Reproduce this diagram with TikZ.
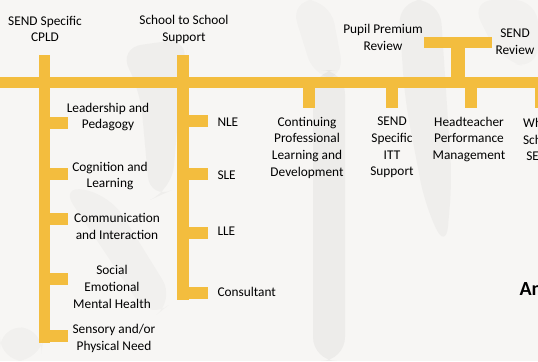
\documentclass[tikz,border=0pt]{standalone}
\usepackage{fontspec}
\setmainfont{Carlito}
\definecolor{bargold}{RGB}{243,189,62}
\definecolor{paper}{RGB}{247,246,244}
\definecolor{shade}{RGB}{150,150,150}
\tikzset{every picture/.style={line width=0.75pt}}
\tikzset{
  bar/.style={draw=bargold, line width=8.6pt},
  lbl/.style={align=center, inner sep=0.75pt, font=\fontsize{10}{12.5}\selectfont},
  ghost/.style={fill=shade, fill opacity=0.08, draw=none, rounded corners=18pt},
}

\begin{document}
\begin{tikzpicture}[x=0.75pt,y=0.75pt,yscale=-1,xscale=1]
\useasboundingbox (0,0) rectangle (538,361);
\clip (0,0) rectangle (538,361);

%Background
\fill [paper] (0,0) rectangle (538,361);
%Shape: faded photo
\path [ghost] (118,48) -- (190,38) -- (182,70) -- (172,190) -- (150,200) -- (140,90) -- cycle;
\path [ghost, fill opacity=0.06] (60,185) -- (110,195) -- (175,300) -- (150,320) -- cycle;
\path [ghost, fill opacity=0.06] (0,325) -- (45,330) -- (40,361) -- (0,361) -- cycle;
\path [ghost, fill opacity=0.1] (313,70) -- (345,70) -- (345,361) -- (313,361) -- cycle;
\path [ghost, fill opacity=0.05] (290,0) -- (330,0) -- (345,80) -- (315,80) -- cycle;
\path [ghost] (398,0) -- (440,0) -- (452,180) -- (446,250) -- (425,205) -- (405,100) -- cycle;
\path [ghost, fill opacity=0.05] (470,0) -- (538,0) -- (538,70) -- (500,60) -- cycle;

%Straight Lines: main bar
\draw [bar] (0,82.5) -- (538,82.5);
%Straight Lines: CPLD branch
\draw [bar] (44.5,55) -- (44.5,343);
\foreach \y in {123,174,219,279,336}
  \draw [bar] (44.5,\y) -- (68,\y);
%Straight Lines: school to school branch
\draw [bar] (183,55) -- (183,300);
\foreach \y in {121,174,233,293}
  \draw [bar] (183,\y) -- (208,\y);
%Straight Lines: review T
\draw [bar] (424,42.5) -- (492,42.5);
\draw [bar, line width=10pt] (458,42.5) -- (458,82.5);
%Straight Lines: drops
\foreach \x in {309,392,471,541}
  \draw [bar] (\x,82.5) -- (\x,108);

% Text Node
\draw (45,29) node [lbl] (cpld) {SEND Specific\\CPLD};
% Text Node
\draw (184,29.5) node [lbl] (s2s) {School to School\\Support};
% Text Node
\draw (383,37.5) node [lbl] (ppr) {Pupil Premium\\Review};
% Text Node
\draw (515,41.5) node [lbl] (sendrev) {SEND\\Review};

% Text Node
\draw (108,117) node [lbl] (lead) {Leadership and\\Pedagogy};
% Text Node
\draw (110,176) node [lbl] (cog) {Cognition and\\Learning};
% Text Node
\draw (117,226.5) node [lbl] (comm) {Communication\\and Interaction};
% Text Node
\draw (112,287) node [lbl] (semh) {Social\\Emotional\\Mental Health};
% Text Node
\draw (114,338.5) node [lbl] (sens) {Sensory and/or\\Physical Need};

% Text Node
\draw (216,122) node [lbl, anchor=west] (nle) {NLE};
% Text Node
\draw (216,175) node [lbl, anchor=west] (sle) {SLE};
% Text Node
\draw (216,231) node [lbl, anchor=west] (lle) {LLE};
% Text Node
\draw (216,292) node [lbl, anchor=west] (cons) {Consultant};

% Text Node
\draw (307,147.5) node [lbl] (cpd) {Continuing\\Professional\\Learning and\\Development};
% Text Node
\draw (392,147.5) node [lbl] (itt) {SEND\\Specific\\ITT\\Support};
% Text Node
\draw (469,139.5) node [lbl] (htpm) {Headteacher\\Performance\\Management};
% Text Node
\draw (541,139.5) node [lbl] (wss) {Whole\\School\\SEND};

% Text Node
\draw (518,289) node [anchor=west, inner sep=0.75pt, font=\fontsize{15}{18}\selectfont\bfseries] (an) {An};

\end{tikzpicture}
\end{document}
